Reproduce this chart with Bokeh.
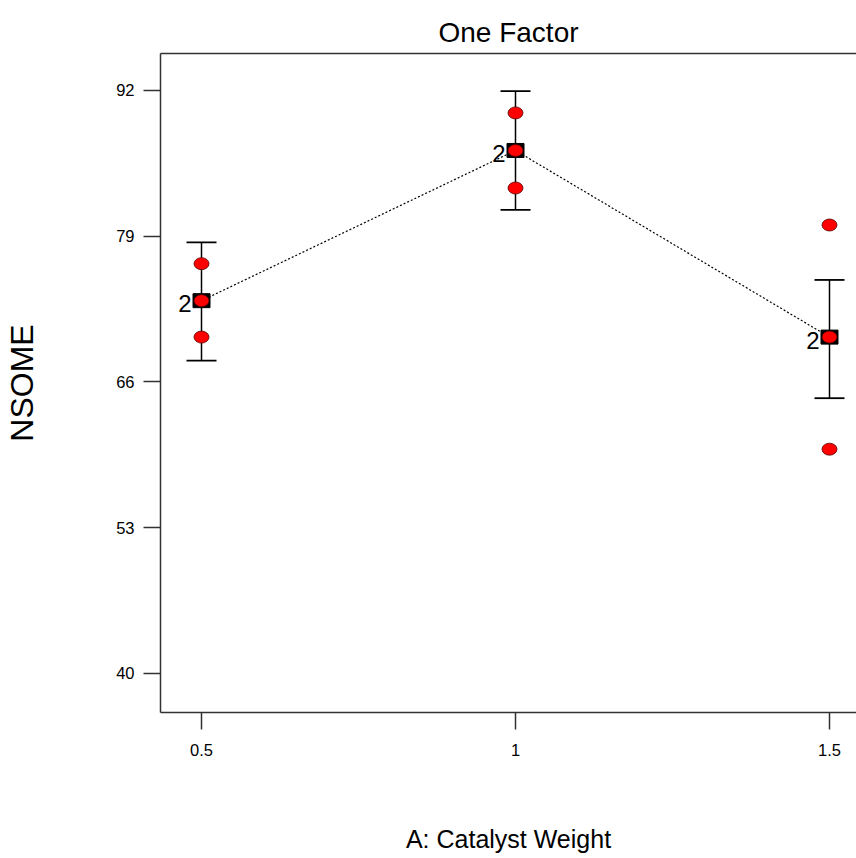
from bokeh.plotting import figure
from bokeh.models import (ColumnDataSource, FixedTicker, LinearAxis, Range1d,
                          Whisker, TeeHead)
from bokeh.core.properties import value
from bokeh.embed import file_html
from bokeh.resources import INLINE

# ---- data ----
weights = [0.5, 1.0, 1.5]
tick_labels = ["0.5", "1", "1.5"]
means = [73.25, 86.65, 70.0]
upper = [78.45, 91.95, 75.1]
lower = [67.9, 81.35, 64.55]
replicates = [2, 2, 2]
pt_x = [0.5, 0.5, 0.5, 1.0, 1.0, 1.0, 1.5, 1.5, 1.5]
pt_y = [76.55, 73.25, 70.0, 90.0, 86.65, 83.3, 80.0, 70.0, 60.0]
y_ticks = [40, 53, 66, 79, 92]

FONT = "Liberation Sans"

p = figure(width=856, height=858, output_backend="svg", toolbar_location=None,
           x_range=Range1d(0.4347, 1.543), y_range=Range1d(36.51, 95.30),
           min_border_left=160, min_border_right=0, min_border_top=53,
           min_border_bottom=146, background_fill_color="white",
           border_fill_color="white", outline_line_color=None)
p.grid.visible = False

p.title.text = "One Factor"
p.title.align = "center"
p.title.offset = 6
p.title.text_font = FONT
p.title.text_font_size = "28px"
p.title.text_font_style = "normal"
p.title.text_color = "black"
p.title.standoff = 11

axcol = "#333333"
for ax in (p.xaxis[0], p.yaxis[0]):
    ax.axis_line_color = axcol
    ax.axis_line_width = 1.5
    ax.major_tick_line_color = axcol
    ax.major_tick_line_width = 1.5
    ax.major_tick_out = 17
    ax.major_tick_in = 0
    ax.minor_tick_line_color = None
    ax.major_label_text_font = FONT
    ax.major_label_text_font_size = "16.5px"
    ax.major_label_text_color = "black"
    ax.axis_label_text_font = FONT
    ax.axis_label_text_font_style = "normal"
    ax.axis_label_text_color = "black"

p.xaxis.ticker = FixedTicker(ticks=weights)
p.xaxis.major_label_overrides = {w: t for w, t in zip(weights, tick_labels)}
p.xaxis.major_label_standoff = 14
p.xaxis.axis_label = "A: Catalyst Weight"
p.xaxis.axis_label_text_font_size = "25px"
p.xaxis.axis_label_standoff = 66

p.yaxis.ticker = FixedTicker(ticks=y_ticks)
p.yaxis.major_label_standoff = 9
p.yaxis.axis_label = "NSOME"
p.yaxis.axis_label_text_font_size = "32px"
p.yaxis.axis_label_standoff = 73

top_axis = LinearAxis(ticker=FixedTicker(ticks=[]), axis_line_color=axcol,
                      axis_line_width=1.5, major_tick_line_color=None,
                      minor_tick_line_color=None,
                      major_label_text_font_size="0px")
p.add_layout(top_axis, "above")

# error bars (LSD bars)
src_m = ColumnDataSource(dict(x=weights, m=means, up=upper, lo=lower,
                              lab=[str(r) for r in replicates]))
wh = Whisker(source=src_m, base="x", upper="up", lower="lo",
             line_color="black", line_width=1.5, level="underlay",
             upper_head=TeeHead(size=30, line_color="black", line_width=1.8),
             lower_head=TeeHead(size=30, line_color="black", line_width=1.8))
p.add_layout(wh)

# dotted line through means
p.line("x", "m", source=src_m, line_color="black", line_width=1.2,
       line_dash="2 2")

# mean squares
p.rect("x", "m", source=src_m, width=17, height=14, width_units="screen",
       height_units="screen", fill_color="black", line_color="black")

# design points
src_p = ColumnDataSource(dict(x=pt_x, y=pt_y))
p.ellipse("x", "y", source=src_p, width=15, height=12, width_units="screen",
          height_units="screen", fill_color="#ff0000", line_color="#550000",
          line_width=0.8)

# replicate labels
p.text("x", "m", text="lab", source=src_m, x_offset=-10, y_offset=3,
       text_align="right", text_baseline="alphabetic",
       text_font=value(FONT), text_font_size="24px",
       text_color="black")

open("out.html", "w").write(file_html(p, INLINE))
